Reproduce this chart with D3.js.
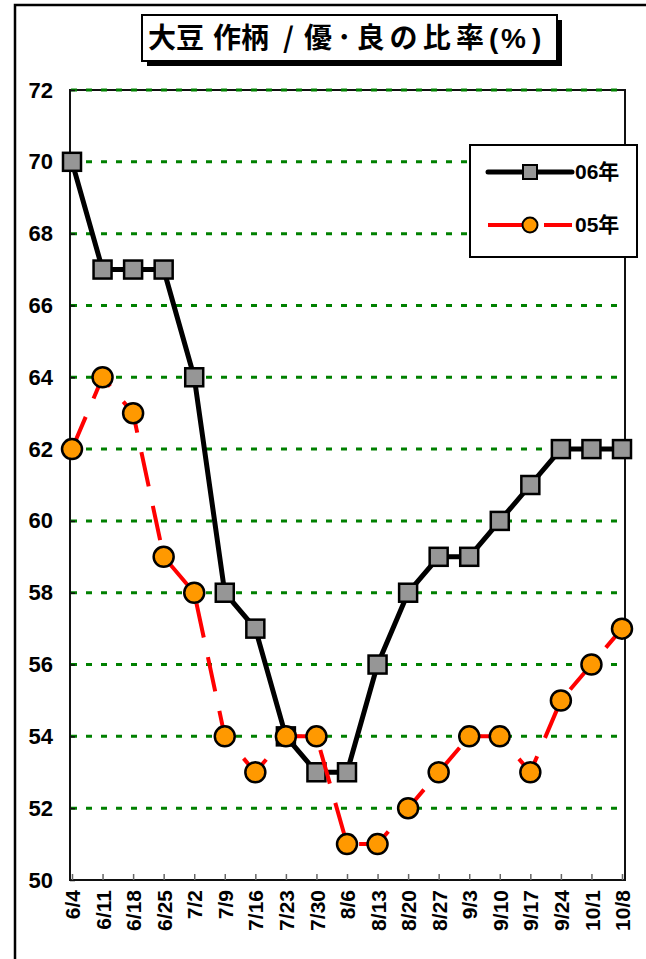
<!DOCTYPE html>
<html><head><meta charset="utf-8">
<script src="https://cdn.jsdelivr.net/npm/d3@7"></script>
<style>html,body{margin:0;padding:0;background:#fff;}svg{display:block;}</style>
</head><body>
<script>
const categories = ["6/4","6/11","6/18","6/25","7/2","7/9","7/16","7/23","7/30","8/6","8/13","8/20","8/27","9/3","9/10","9/17","9/24","10/1","10/8"];
const series06 = [70,67,67,67,64,58,57,54,53,53,56,58,59,59,60,61,62,62,62];
const series05 = [62,64,63,59,58,54,53,54,54,51,51,52,53,54,54,53,55,56,57];
const yTicks = [50,52,54,56,58,60,62,64,66,68,70,72];
const titleParts = ["大豆", "作柄", "/", "優･良の比率", "(", "%", ")"];
const legendLabels = ["06年","05年"];

const W = 646, H = 959;
const svg = d3.select("body").append("svg").attr("width", W).attr("height", H);
const latin = "'Liberation Sans', Arial, 'Noto Sans CJK JP', sans-serif";
const cjk = "'Noto Sans CJK JP', 'Liberation Sans', sans-serif";

// outer frame (extends beyond image)
svg.append("rect").attr("x", 15).attr("y", 5).attr("width", 700).attr("height", 1000)
  .attr("fill", "none").attr("stroke", "#000").attr("stroke-width", 2.5);

const plot = {l: 70, r: 625, t: 90, b: 880};
const x = d3.scalePoint().domain(categories).range([72, 622]);
const y = d3.scaleLinear().domain([50, 72]).range([plot.b, plot.t]);

// plot border
svg.append("rect").attr("x", plot.l).attr("y", plot.t).attr("width", plot.r - plot.l).attr("height", plot.b - plot.t)
  .attr("fill", "none").attr("stroke", "#111").attr("stroke-width", 2);

// gridlines
svg.append("g").selectAll("line").data(yTicks.filter(v => v > 50)).join("line")
  .attr("x1", plot.l + 1).attr("x2", plot.r - 1)
  .attr("y1", d => y(d)).attr("y2", d => y(d))
  .attr("stroke", "#008000").attr("stroke-width", 3).attr("stroke-dasharray", "6,9");

// y axis ticks & labels
const yAxis = d3.axisLeft(y).tickValues(yTicks).tickSize(-5).tickPadding(17).tickFormat(d3.format("d"));
const gy = svg.append("g").attr("transform", `translate(${plot.l},0)`).call(yAxis);
gy.select(".domain").remove();
gy.selectAll(".tick line").attr("stroke", "#111").attr("stroke-width", 1.5);
gy.selectAll(".tick text").attr("font-family", latin).attr("font-weight", "bold").attr("font-size", 22).attr("fill", "#000");

// x axis
const xAxis = d3.axisBottom(x).tickSize(-6).tickPadding(0);
const gx = svg.append("g").attr("transform", `translate(0,${plot.b})`).call(xAxis);
gx.select(".domain").remove();
gx.selectAll(".tick line").attr("stroke", "#666").attr("stroke-width", 1.5);
gx.selectAll(".tick text")
  .attr("font-family", latin).attr("font-weight", "bold").attr("font-size", 21).attr("fill", "#000")
  .attr("text-anchor", "end").attr("dy", "0.36em")
  .attr("transform", "translate(0,10) rotate(-90)").attr("x", 0).attr("y", 0);

// 06 series
const line = d3.line().x((d, i) => x(categories[i])).y(d => y(d));
svg.append("path").datum(series06).attr("d", line).attr("fill", "none")
  .attr("stroke", "#000").attr("stroke-width", 5).attr("stroke-linejoin", "round");
const sq = 18;
svg.append("g").selectAll("rect").data(series06).join("rect")
  .attr("x", (d, i) => x(categories[i]) - sq / 2).attr("y", d => y(d) - sq / 2)
  .attr("width", sq).attr("height", sq)
  .attr("fill", "#969696").attr("stroke", "#000").attr("stroke-width", 2.5);

// 05 series
svg.append("path").datum(series05).attr("d", line).attr("fill", "none")
  .attr("stroke", "#ff0000").attr("stroke-width", 4).attr("stroke-dasharray", "35,20");
svg.append("g").selectAll("circle").data(series05).join("circle")
  .attr("cx", (d, i) => x(categories[i])).attr("cy", d => y(d)).attr("r", 10)
  .attr("fill", "#ff9900").attr("stroke", "#000").attr("stroke-width", 2.5);

// legend
const lg = svg.append("g");
lg.append("rect").attr("x", 470).attr("y", 145).attr("width", 167).attr("height", 112)
  .attr("fill", "#fff").attr("stroke", "#000").attr("stroke-width", 2);
const ly = [172, 225];
lg.append("line").attr("x1", 488).attr("x2", 572).attr("y1", ly[0]).attr("y2", ly[0])
  .attr("stroke", "#000").attr("stroke-width", 5).attr("stroke-linecap", "round");
lg.append("rect").attr("x", 530 - 7).attr("y", ly[0] - 7).attr("width", 14).attr("height", 14)
  .attr("fill", "#969696").attr("stroke", "#000").attr("stroke-width", 2);
lg.append("line").attr("x1", 488).attr("x2", 572).attr("y1", ly[1]).attr("y2", ly[1])
  .attr("stroke", "#ff0000").attr("stroke-width", 4).attr("stroke-dasharray", "35,21");
lg.append("circle").attr("cx", 530).attr("cy", ly[1]).attr("r", 7.5)
  .attr("fill", "#ff9900").attr("stroke", "#000").attr("stroke-width", 2);
lg.selectAll("text").data(legendLabels).join("text")
  .attr("x", 575).attr("y", (d, i) => ly[i]).attr("dy", "0.35em")
  .attr("font-family", latin).attr("font-weight", "bold").attr("font-size", 21).attr("fill", "#000")
  .text(d => d);

// title
const tg = svg.append("g");
tg.append("rect").attr("x", 147).attr("y", 20).attr("width", 415).attr("height", 46).attr("fill", "#000");
tg.append("rect").attr("x", 142).attr("y", 15).attr("width", 415).attr("height", 46)
  .attr("fill", "#fff").attr("stroke", "#000").attr("stroke-width", 2);
const tpos = [
  {x: 148, w: null},
  {x: 213, w: null},
  {x: 283, w: null},
  {x: 304, w: 180},
  {x: 489, w: null},
  {x: 501, w: null},
  {x: 532, w: null}
];
const tt = tg.append("text").attr("y", 38).attr("dy", "0.36em")
  .attr("font-family", cjk).attr("font-weight", "bold").attr("font-size", 28).attr("fill", "#000");
titleParts.forEach((p, i) => {
  const s = tt.append("tspan").attr("x", tpos[i].x).text(p);
  if (tpos[i].w) s.attr("textLength", tpos[i].w).attr("lengthAdjust", "spacing");
  if (p === "%" || p === "(" || p === ")") s.attr("font-family", latin).attr("font-size", 28);
});
</script>
</body></html>
